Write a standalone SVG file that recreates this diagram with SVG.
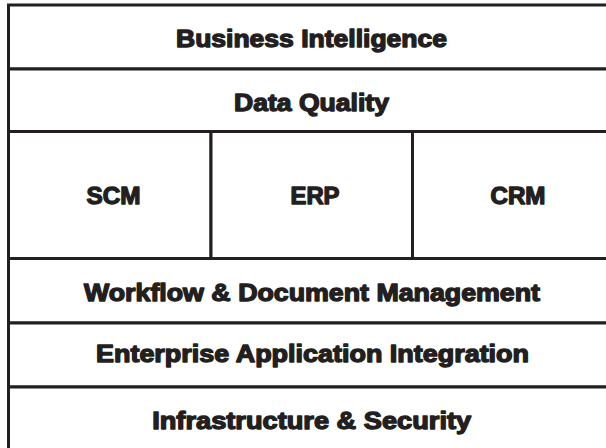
<svg xmlns="http://www.w3.org/2000/svg" width="606" height="448" viewBox="0 0 606 448">
  <style>
    .box { fill: #ffffff; stroke: #231f20; stroke-width: 3; }
    .lbl { font-family: "Liberation Sans", Arial, sans-serif; font-weight: bold; font-size: 23px; fill: #231f20; stroke: #231f20; stroke-width: 1.3; stroke-linejoin: round; text-anchor: middle; }
  </style>
  <rect x="0" y="0" width="606" height="448" fill="#ffffff"/>
  <g id="business-intelligence">
    <rect class="box" x="8.5" y="5" width="606" height="64"/>
    <text class="lbl" x="311.5" y="46.5" textLength="271" lengthAdjust="spacingAndGlyphs">Business Intelligence</text>
  </g>
  <g id="data-quality">
    <rect class="box" x="8.5" y="69" width="606" height="62.5"/>
    <text class="lbl" x="311.5" y="110.5" textLength="155" lengthAdjust="spacingAndGlyphs">Data Quality</text>
  </g>
  <g id="scm">
    <rect class="box" x="8.5" y="131.5" width="202.5" height="127"/>
    <text class="lbl" x="113.5" y="203.5" textLength="54" lengthAdjust="spacingAndGlyphs">SCM</text>
  </g>
  <g id="erp">
    <rect class="box" x="211" y="131.5" width="201.5" height="127"/>
    <text class="lbl" x="315" y="203.5" textLength="49" lengthAdjust="spacingAndGlyphs">ERP</text>
  </g>
  <g id="crm">
    <rect class="box" x="412.5" y="131.5" width="202" height="127"/>
    <text class="lbl" x="518" y="203.5" textLength="55" lengthAdjust="spacingAndGlyphs">CRM</text>
  </g>
  <g id="workflow-document-management">
    <rect class="box" x="8.5" y="258.5" width="606" height="64.5"/>
    <text class="lbl" x="312" y="300.5" textLength="456" lengthAdjust="spacingAndGlyphs">Workflow &amp; Document Management</text>
  </g>
  <g id="enterprise-application-integration">
    <rect class="box" x="8.5" y="323" width="606" height="64"/>
    <text class="lbl" x="312.5" y="362" textLength="433" lengthAdjust="spacingAndGlyphs">Enterprise Application Integration</text>
  </g>
  <g id="infrastructure-security">
    <rect class="box" x="8.5" y="387" width="606" height="75"/>
    <text class="lbl" x="311.7" y="429" textLength="319" lengthAdjust="spacingAndGlyphs">Infrastructure &amp; Security</text>
  </g>
  <g id="connectors"></g>
</svg>
